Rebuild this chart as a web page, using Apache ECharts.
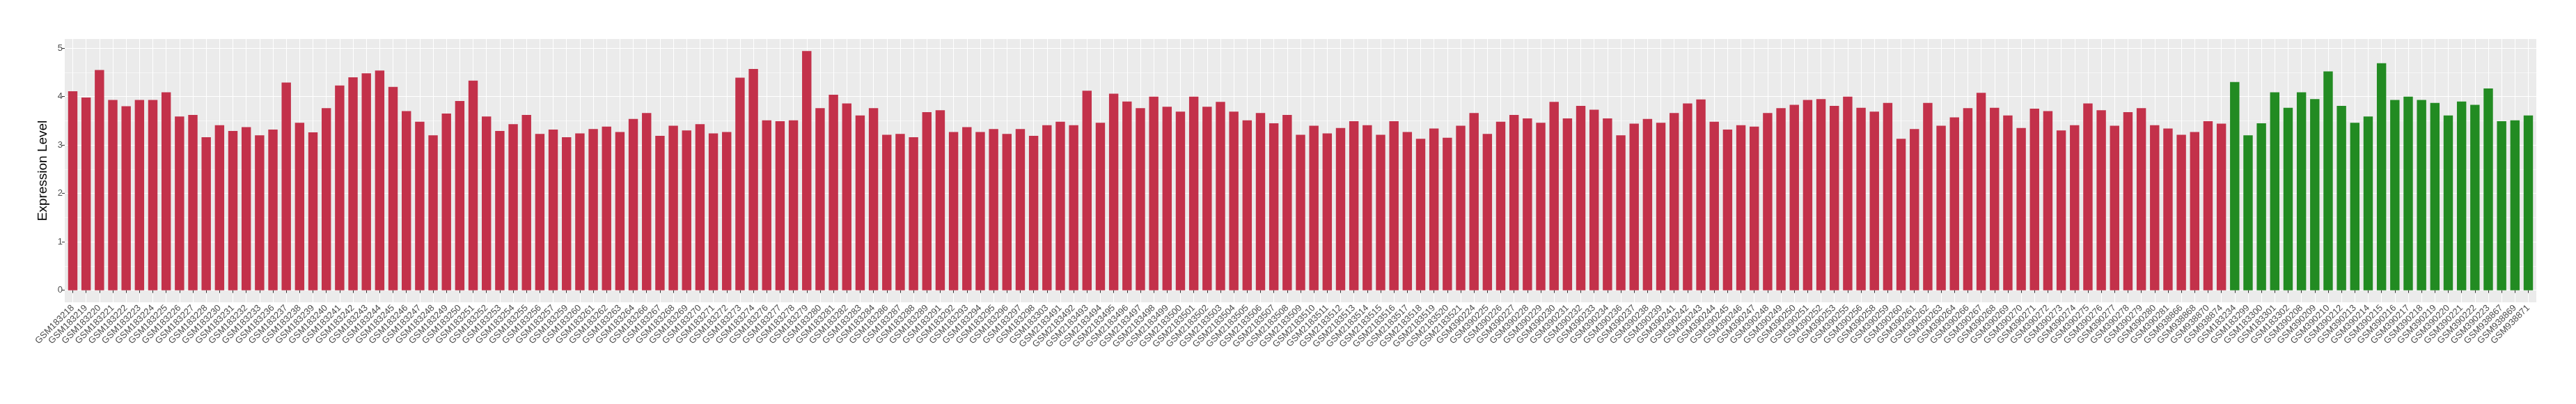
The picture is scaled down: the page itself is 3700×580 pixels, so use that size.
<!DOCTYPE html>
<html>
<head>
<meta charset="utf-8">
<script src="https://cdn.jsdelivr.net/npm/echarts@6/dist/echarts.min.js"></script>
<style>
  html, body { margin: 0; padding: 0; background: #fff; }
  #chart { width: 3700px; height: 580px; }
</style>
</head>
<body>
<div id="chart"></div>
<script>
// red group
const caseSamples = [
  'GSM183218','GSM183219','GSM183220','GSM183221','GSM183222','GSM183223','GSM183224','GSM183225','GSM183226','GSM183227',
  'GSM183228','GSM183230','GSM183231','GSM183232','GSM183233','GSM183236','GSM183237','GSM183238','GSM183239','GSM183240',
  'GSM183241','GSM183242','GSM183243','GSM183244','GSM183245','GSM183246','GSM183247','GSM183248','GSM183249','GSM183250',
  'GSM183251','GSM183252','GSM183253','GSM183254','GSM183255','GSM183256','GSM183257','GSM183259','GSM183260','GSM183261',
  'GSM183262','GSM183263','GSM183264','GSM183266','GSM183267','GSM183268','GSM183269','GSM183270','GSM183271','GSM183272',
  'GSM183273','GSM183274','GSM183276','GSM183277','GSM183278','GSM183279','GSM183280','GSM183281','GSM183282','GSM183283',
  'GSM183284','GSM183286','GSM183287','GSM183288','GSM183289','GSM183291','GSM183292','GSM183293','GSM183294','GSM183295',
  'GSM183296','GSM183297','GSM183298','GSM183303','GSM2183491','GSM2183492','GSM2183493','GSM2183494','GSM2183495','GSM2183496',
  'GSM2183497','GSM2183498','GSM2183499','GSM2183500','GSM2183501','GSM2183502','GSM2183503','GSM2183504','GSM2183505','GSM2183506',
  'GSM2183507','GSM2183508','GSM2183509','GSM2183510','GSM2183511','GSM2183512','GSM2183513','GSM2183514','GSM2183515','GSM2183516',
  'GSM2183517','GSM2183518','GSM2183519','GSM2183520','GSM2183521','GSM390224','GSM390225','GSM390226','GSM390227','GSM390228',
  'GSM390229','GSM390230','GSM390231','GSM390232','GSM390233','GSM390234','GSM390236','GSM390237','GSM390238','GSM390239',
  'GSM390241','GSM390242','GSM390243','GSM390244','GSM390245','GSM390246','GSM390247','GSM390248','GSM390249','GSM390250',
  'GSM390251','GSM390252','GSM390253','GSM390255','GSM390256','GSM390258','GSM390259','GSM390260','GSM390261','GSM390262',
  'GSM390263','GSM390264','GSM390266','GSM390267','GSM390268','GSM390269','GSM390270','GSM390271','GSM390272','GSM390273',
  'GSM390274','GSM390275','GSM390276','GSM390277','GSM390278','GSM390279','GSM390280','GSM390281','GSM938866','GSM938868',
  'GSM938870','GSM938874'
];
const caseValues = [
  4.11,3.98,4.55,3.93,3.80,3.93,3.93,4.09,3.59,3.62,
  3.16,3.41,3.29,3.37,3.20,3.32,4.29,3.46,3.26,3.76,
  4.23,4.40,4.48,4.54,4.20,3.70,3.48,3.20,3.65,3.91,
  4.33,3.59,3.29,3.43,3.62,3.23,3.32,3.16,3.24,3.33,
  3.38,3.27,3.54,3.66,3.19,3.40,3.30,3.43,3.24,3.27,
  4.39,4.57,3.51,3.49,3.51,4.94,3.76,4.04,3.86,3.61,
  3.76,3.21,3.23,3.16,3.68,3.72,3.27,3.37,3.27,3.33,
  3.23,3.33,3.19,3.41,3.48,3.41,4.12,3.46,4.06,3.90,
  3.76,4.00,3.79,3.69,4.00,3.79,3.89,3.69,3.51,3.66,
  3.45,3.62,3.21,3.40,3.24,3.35,3.49,3.41,3.21,3.49,
  3.27,3.13,3.34,3.15,3.40,3.66,3.23,3.48,3.62,3.55,
  3.46,3.89,3.55,3.81,3.73,3.55,3.20,3.44,3.54,3.46,
  3.66,3.86,3.94,3.48,3.32,3.41,3.38,3.66,3.76,3.83,
  3.93,3.95,3.81,4.00,3.77,3.69,3.87,3.13,3.33,3.87,
  3.40,3.57,3.76,4.08,3.77,3.61,3.35,3.75,3.70,3.30,
  3.41,3.86,3.72,3.40,3.68,3.76,3.41,3.34,3.21,3.27,
  3.49,3.44
];
// green group
const controlSamples = [
  'GSM183234','GSM183299','GSM183300','GSM183301','GSM183302','GSM390208','GSM390209','GSM390210','GSM390212','GSM390213',
  'GSM390214','GSM390215','GSM390216','GSM390217','GSM390218','GSM390219','GSM390220','GSM390221','GSM390222','GSM390223',
  'GSM938867','GSM938869','GSM938871'
];
const controlValues = [
  4.30,3.20,3.45,4.09,3.77,4.09,3.95,4.52,3.81,3.46,
  3.59,4.69,3.93,4.00,3.93,3.87,3.61,3.90,3.83,4.17,
  3.49,3.51,3.61
];
const yTicks = [0, 1, 2, 3, 4, 5];

const samples = caseSamples.concat(controlSamples);
const n = samples.length;
const bars = caseValues.map(v => ({ value: v, itemStyle: { color: '#C3314A' } }))
  .concat(controlValues.map(v => ({ value: v, itemStyle: { color: '#228B22' } })));

// ggplot-like panel, discrete axis padded by 0.6 of a step on each side
const panel = { left: 93, top: 56, width: 3550, height: 378 };
const step = panel.width / (n - 1 + 1.2);
const yMin = -0.25, yMax = 5.19;
const font = 'Liberation Sans';

const chart = echarts.init(document.getElementById('chart'));
chart.setOption({
  animation: false,
  grid: [
    {
      left: panel.left, top: panel.top, width: panel.width, height: panel.height,
      show: true, backgroundColor: '#EBEBEB', borderWidth: 0
    },
    {
      left: panel.left + 0.6 * step, top: panel.top,
      width: panel.width - 1.2 * step, height: panel.height
    }
  ],
  xAxis: [
    { gridIndex: 0, type: 'value', min: 0, max: 1, show: false },
    {
      gridIndex: 1,
      type: 'category',
      data: samples,
      boundaryGap: false,
      axisLine: { show: false },
      axisTick: { show: true, interval: 0, length: 4, lineStyle: { color: '#333333', width: 1 } },
      axisLabel: {
        interval: 0, rotate: 45, margin: 6,
        fontFamily: font, fontSize: 13, color: '#4D4D4D'
      },
      splitLine: { show: true, interval: 0, lineStyle: { color: '#FFFFFF', width: 1 } }
    }
  ],
  yAxis: [
    {
      // grid lines: major at integers, minor at halves
      gridIndex: 0, type: 'value', position: 'left', min: yMin, max: yMax, interval: 0.25,
      axisLine: { show: false }, axisTick: { show: false }, axisLabel: { show: false },
      splitLine: {
        show: true,
        lineStyle: { width: 1, color: ['rgba(0,0,0,0)', '#FFFFFF', 'rgba(0,0,0,0)', '#F6F6F6'] }
      }
    },
    {
      gridIndex: 0, type: 'value', position: 'left', min: yMin, max: yMax,
      name: 'Expression Level',
      nameLocation: 'middle', nameRotate: 90, nameGap: 22,
      nameTextStyle: { fontFamily: font, fontSize: 19, color: '#000000' },
      axisLine: { show: false },
      axisTick: { show: true, customValues: yTicks, length: 4, lineStyle: { color: '#333333', width: 1 } },
      axisLabel: {
        customValues: yTicks, margin: 3,
        fontFamily: font, fontSize: 13, color: '#4D4D4D'
      },
      splitLine: { show: false }
    },
    { gridIndex: 1, type: 'value', position: 'left', min: yMin, max: yMax, show: false }
  ],
  series: [
    {
      type: 'bar',
      xAxisIndex: 1,
      yAxisIndex: 2,
      data: bars,
      barWidth: '70%',
      clip: false
    }
  ]
});
</script>
</body>
</html>
